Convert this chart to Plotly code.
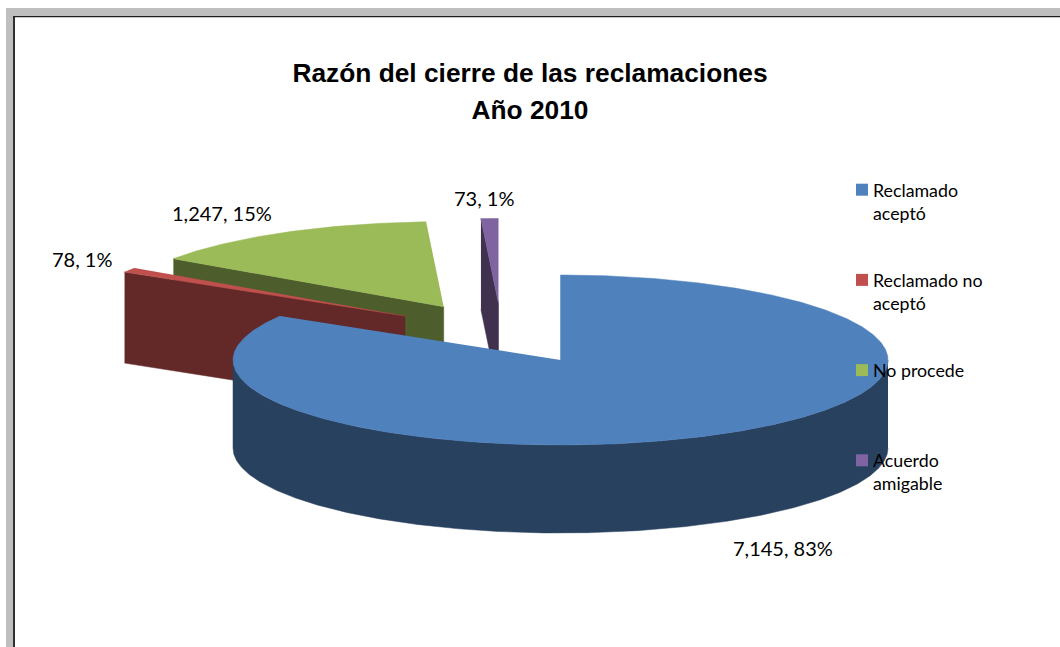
import math
import plotly.graph_objects as go

# ---- data ----
categories = ["Reclamado<br>aceptó", "Reclamado no<br>aceptó", "No procede", "Acuerdo<br>amigable"]
values = [7145, 78, 1247, 73]
percent_labels = [83, 1, 15, 1]
title_lines = ["Razón del cierre de las reclamaciones", "Año 2010"]

# ---- styles ----
top_colors = ["#4F81BD", "#C0504D", "#9BBB59", "#8064A2"]
side_colors = ["#28415F", "#632928", "#4E5D2C", "#40314F"]
CX, CY, RX, RY, DEPTH, DEPTH_EXPLODED = 560.5, 360.0, 327.5, 85.0, 88.0, 91.0
explode_offsets = [(0, 0), (-155.5, -44), (-116.8, -53.3), (-62, -56.5)]
label_positions = [(783, 548), (82, 259), (222, 213), (484, 198)]
legend_x, legend_y0, legend_step = 862, 189.7, 90.2
TITLE_SIZE = 26.3


def pt(t_deg, ox, oy, z=0.0):
    t = math.radians(t_deg)
    return CX + ox + RX * math.sin(t), CY + oy - RY * math.cos(t) + z


def arc(a, b, ox, oy, z=0.0):
    n = max(2, int(abs(b - a) * 2))
    return [pt(a + (b - a) * i / n, ox, oy, z) for i in range(n + 1)]


fig = go.Figure()


def poly(points, color, name):
    fig.add_trace(go.Scatter(
        x=[p[0] for p in points], y=[p[1] for p in points], mode="lines",
        fill="toself", fillcolor=color, line=dict(color=color, width=0.5),
        hoverinfo="name", name=name, showlegend=False))


total = sum(values)
spans = []
start = 0.0
for v in values:
    spans.append((start, start + 360.0 * v / total))
    start += 360.0 * v / total

# draw back to front: green, purple, red, blue
for i in [2, 3, 1]:
    a, b = spans[i]
    ox, oy = explode_offsets[i]
    apex = (CX + ox, CY + oy)
    outer = pt(a, ox, oy)
    name = categories[i].replace("<br>", " ")
    poly([outer, apex, (apex[0], apex[1] + DEPTH_EXPLODED), (outer[0], outer[1] + DEPTH_EXPLODED)],
         side_colors[i], name)
    poly([apex] + arc(a, b, ox, oy), top_colors[i], name)

a, b = spans[0]
name0 = categories[0].replace("<br>", " ")
poly(arc(90, 270, 0, 0) + arc(270, 90, 0, 0, DEPTH), side_colors[0], name0)
poly([(CX, CY)] + arc(a, b, 0, 0), top_colors[0], name0)

# legend keys
for i, c in enumerate(categories):
    fig.add_trace(go.Scatter(
        x=[legend_x], y=[legend_y0 + i * legend_step], mode="markers",
        marker=dict(symbol="square", size=12, color=top_colors[i]),
        hoverinfo="skip", showlegend=False))

annotations = []
for i, v in enumerate(values):
    annotations.append(dict(
        x=label_positions[i][0], y=label_positions[i][1], xref="x", yref="y",
        text=f"{v:,}, {percent_labels[i]}%", showarrow=False, xanchor="center", yanchor="middle",
        font=dict(family="Lato", size=20, color="#000000")))
for i, c in enumerate(categories):
    annotations.append(dict(
        x=872, y=178 + i * 90, xref="x", yref="y",
        text=c, showarrow=False, xanchor="left", yanchor="top", align="left", borderpad=0,
        font=dict(family="Lato", size=17.8, color="#000000")))

shapes = [
    dict(type="rect", xref="x", yref="y", x0=6, x1=1060, y0=8, y1=16, fillcolor="#BFBFBF", line_width=0),
    dict(type="rect", xref="x", yref="y", x0=6, x1=13, y0=8, y1=647, fillcolor="#BFBFBF", line_width=0),
    dict(type="rect", xref="x", yref="y", x0=13, x1=15, y0=16, y1=647, fillcolor="#303030", line_width=0),
    dict(type="rect", xref="x", yref="y", x0=13, x1=1060, y0=16, y1=17.2, fillcolor="#202020", line_width=0),
]

title_text = "<br>".join(f'<span style="font-size:{TITLE_SIZE}px"><b>{t}</b></span>' for t in title_lines)

fig.update_layout(
    width=1060, height=647, margin=dict(l=0, r=0, t=0, b=0),
    paper_bgcolor="#FFFFFF", plot_bgcolor="#FFFFFF", showlegend=False,
    title=dict(text=title_text, x=530 / 1060, xanchor="center", y=1 - 81.5 / 647, yanchor="middle",
               font=dict(family="Liberation Sans", size=28.5, color="#000000")),
    xaxis=dict(range=[0, 1060], visible=False, fixedrange=True),
    yaxis=dict(range=[647, 0], visible=False, fixedrange=True),
    annotations=annotations, shapes=shapes,
)

fig.write_html("out.html", config=dict(displayModeBar=False),
               post_script="document.body.style.margin='0';document.body.style.overflow='hidden';")
